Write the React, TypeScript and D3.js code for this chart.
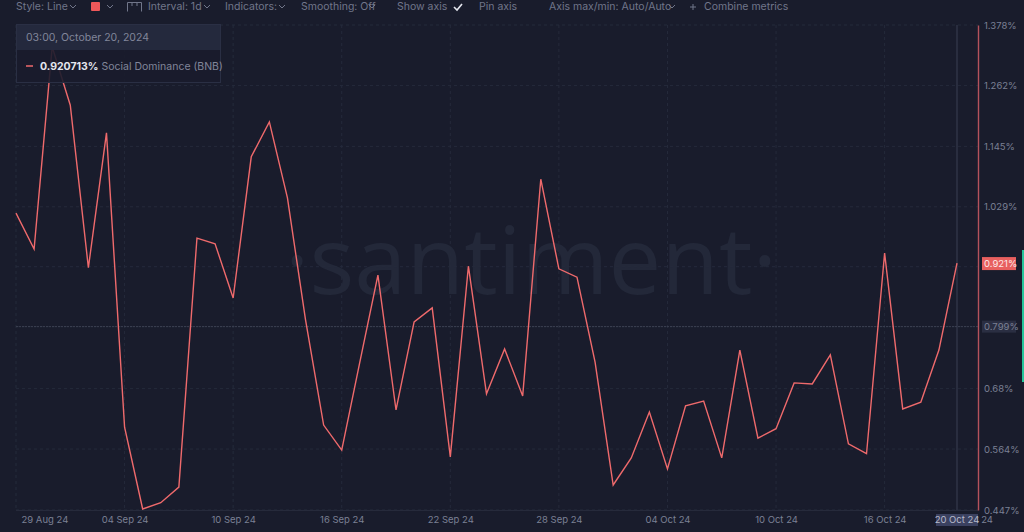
import React, { useRef, useEffect } from "react";
import * as d3 from "d3";

const startDay = "2024-08-29";
const dominance = [
  1.017, 0.948, 1.336, 1.224, 0.912, 1.171, 0.606, 0.449, 0.461, 0.491, 0.969,
  0.958, 0.854, 1.125, 1.192, 1.046, 0.812, 0.61, 0.562, 0.731, 0.898, 0.639,
  0.808, 0.835, 0.549, 0.915, 0.67, 0.756, 0.666, 1.082, 0.91, 0.894, 0.731,
  0.495, 0.547, 0.635, 0.526, 0.647, 0.656, 0.547, 0.754, 0.585, 0.603, 0.691,
  0.689, 0.745, 0.574, 0.555, 0.94, 0.641, 0.654, 0.754, 0.921,
];
const yTicks = [1.378, 1.262, 1.145, 1.029, 0.68, 0.564, 0.447];
const gridY = [1.378, 1.262, 1.145, 1.029, 0.914, 0.799, 0.68, 0.564, 0.447];
const xTicks = [
  "2024-08-29", "2024-09-04", "2024-09-10", "2024-09-16", "2024-09-22",
  "2024-09-28", "2024-10-04", "2024-10-10", "2024-10-16",
];
const toolbarItems = [
  ["Style: Line", 16], ["Interval: 1d", 148], ["Indicators:", 225],
  ["Smoothing: Off", 301], ["Show axis", 397], ["Pin axis", 479],
  ["Axis max/min: Auto/Auto", 549], ["Combine metrics", 704],
] as [string, number][];
const chevrons = [73, 110, 207, 282, 372, 672];

const FONT = "Inter, 'Noto Sans', sans-serif";
const BG = "#191c2c";
const RED = "#ef6a6c";
const MUTED = "#7b8094";

const parseDay = d3.utcParse("%Y-%m-%d");
const fmtDay = d3.utcFormat("%d %b %y");

const App: React.FC = () => {
  const svgRef = useRef<SVGSVGElement | null>(null);

  useEffect(() => {
    if (!svgRef.current) return;
    const svg = d3.select(svgRef.current);
    svg.selectAll("*").remove();

    const start = parseDay(startDay) as Date;
    const dates = dominance.map((_, i) => d3.utcDay.offset(start, i));

    const x = d3
      .scaleUtc()
      .domain([start, dates[dates.length - 1]])
      .range([16, 957]);
    const y = d3.scaleLinear().domain([0.447, 1.378]).range([510, 25]);

    svg.append("rect").attr("width", 1024).attr("height", 532).attr("fill", BG);

    // watermark
    svg
      .append("text")
      .attr("x", 531)
      .attr("y", 294)
      .attr("text-anchor", "middle")
      .attr("font-family", "'Open Sans', sans-serif")
      .attr("font-size", 94)
      .attr("fill", "#232839")
      .text("·santiment·");

    // gridlines
    svg
      .append("g")
      .selectAll("line")
      .data(gridY)
      .join("line")
      .attr("x1", 16)
      .attr("x2", 978)
      .attr("y1", (d) => y(d))
      .attr("y2", (d) => y(d))
      .attr("stroke", "#252a3b")
      .attr("stroke-dasharray", "3 3");
    svg
      .append("g")
      .selectAll("line")
      .data(xTicks.map((d) => parseDay(d) as Date))
      .join("line")
      .attr("x1", (d) => x(d))
      .attr("x2", (d) => x(d))
      .attr("y1", 25)
      .attr("y2", 510)
      .attr("stroke", "#252a3b")
      .attr("stroke-dasharray", "3 3");

    // crosshair
    svg
      .append("line")
      .attr("x1", 16)
      .attr("x2", 978)
      .attr("y1", y(0.799))
      .attr("y2", y(0.799))
      .attr("stroke", "#3c4052")
      .attr("stroke-dasharray", "2 1");
    svg
      .append("line")
      .attr("x1", x(dates[dates.length - 1]))
      .attr("x2", x(dates[dates.length - 1]))
      .attr("y1", 25)
      .attr("y2", 510)
      .attr("stroke", "#3a3f52");
    svg
      .append("line")
      .attr("x1", 16)
      .attr("x2", 978)
      .attr("y1", 510.5)
      .attr("y2", 510.5)
      .attr("stroke", "#262a3b");

    // series
    const line = d3
      .line<number>()
      .x((_, i) => x(dates[i]))
      .y((d) => y(d));
    svg
      .append("path")
      .attr("d", line(dominance))
      .attr("fill", "none")
      .attr("stroke", RED)
      .attr("stroke-width", 1.4)
      .attr("stroke-linejoin", "miter");

    // right axis
    const yAxis = svg
      .append("g")
      .attr("transform", "translate(978,0)")
      .call(
        d3
          .axisRight(y)
          .tickValues(yTicks)
          .tickSize(0)
          .tickPadding(6)
          .tickFormat((d) => `${d}%`)
      );
    yAxis.select(".domain").attr("stroke", "#b5525c").attr("stroke-width", 1.4);
    yAxis
      .selectAll("text")
      .attr("fill", MUTED)
      .attr("font-size", 9.5)
      .attr("font-family", FONT);

    // bottom axis
    const xAxis = svg
      .append("g")
      .attr("transform", "translate(0,510)")
      .call(
        d3
          .axisBottom(x)
          .tickValues(xTicks.map((d) => parseDay(d) as Date))
          .tickSize(0)
          .tickPadding(6)
          .tickFormat((d) => fmtDay(d as Date))
      );
    xAxis.select(".domain").remove();
    xAxis
      .selectAll<SVGTextElement, Date>("text")
      .attr("fill", MUTED)
      .attr("font-size", 9.5)
      .attr("font-family", FONT)
      .attr("text-anchor", (_, i) => (i === 0 ? "start" : "middle"))
      .attr("dx", (_, i) => (i === 0 ? 5 : 0));

    // clipped trailing label, sits behind the hover date
    svg
      .append("text")
      .attr("x", 993)
      .attr("y", 523)
      .attr("text-anchor", "end")
      .attr("font-size", 9.5)
      .attr("font-family", FONT)
      .attr("fill", MUTED)
      .text("22 Oct 24");
    svg
      .append("rect")
      .attr("x", 936)
      .attr("y", 514)
      .attr("width", 42)
      .attr("height", 12)
      .attr("fill", "#3b4160");
    svg
      .append("text")
      .attr("x", 957)
      .attr("y", 523)
      .attr("text-anchor", "middle")
      .attr("font-size", 9.5)
      .attr("font-family", FONT)
      .attr("fill", "#b6bacb")
      .text(fmtDay(dates[dates.length - 1]));

    // value tags on the axis
    svg
      .append("rect")
      .attr("x", 982)
      .attr("y", y(0.799) - 6)
      .attr("width", 34)
      .attr("height", 12)
      .attr("fill", "#2a2e42");
    svg
      .append("text")
      .attr("x", 984)
      .attr("y", y(0.799) + 3.5)
      .attr("font-size", 9.5)
      .attr("font-family", FONT)
      .attr("fill", MUTED)
      .text("0.799%");
    svg
      .append("rect")
      .attr("x", 982)
      .attr("y", y(0.921) - 6)
      .attr("width", 34)
      .attr("height", 13)
      .attr("fill", "#e8605f");
    svg
      .append("text")
      .attr("x", 984)
      .attr("y", y(0.921) + 4)
      .attr("font-size", 9.5)
      .attr("font-family", FONT)
      .attr("fill", "#fde8e8")
      .text("0.921%");

    // green edge marker
    svg
      .append("rect")
      .attr("x", 1022)
      .attr("y", 250)
      .attr("width", 2)
      .attr("height", 132)
      .attr("fill", "#26c69b");

    // tooltip
    const tip = svg.append("g");
    tip
      .append("rect")
      .attr("x", 16.5)
      .attr("y", 24.5)
      .attr("width", 204)
      .attr("height", 58)
      .attr("fill", BG)
      .attr("fill-opacity", 0.9)
      .attr("stroke", "#2a2f44");
    tip
      .append("rect")
      .attr("x", 17)
      .attr("y", 25)
      .attr("width", 203)
      .attr("height", 25)
      .attr("fill", "#252a3f")
      .attr("fill-opacity", 0.92);
    tip
      .append("text")
      .attr("x", 26)
      .attr("y", 41)
      .attr("font-size", 10.5)
      .attr("font-family", FONT)
      .attr("fill", "#81869a")
      .text("03:00, October 20, 2024");
    tip
      .append("line")
      .attr("x1", 26)
      .attr("x2", 33)
      .attr("y1", 66)
      .attr("y2", 66)
      .attr("stroke", RED)
      .attr("stroke-width", 1.5);
    const tipText = tip
      .append("text")
      .attr("x", 40)
      .attr("y", 70)
      .attr("font-size", 10.5)
      .attr("font-family", FONT)
      .attr("fill", "#81869a");
    tipText
      .append("tspan")
      .attr("font-weight", 700)
      .attr("fill", "#e4e6ee")
      .text(`${0.920713}%`);
    tipText.append("tspan").attr("dx", 3).text("Social Dominance (BNB)");

    // toolbar
    const bar = svg.append("g");
    bar
      .selectAll("text")
      .data(toolbarItems)
      .join("text")
      .attr("x", (d) => d[1])
      .attr("y", 10)
      .attr("font-size", 10.5)
      .attr("font-family", FONT)
      .attr("fill", "#71768a")
      .text((d) => d[0]);
    bar
      .selectAll("path.chev")
      .data(chevrons)
      .join("path")
      .attr("class", "chev")
      .attr("d", (d) => `M${d - 3} 5 L${d} 8 L${d + 3} 5`)
      .attr("fill", "none")
      .attr("stroke", "#71768a");
    bar
      .append("rect")
      .attr("x", 91)
      .attr("y", 2)
      .attr("width", 9)
      .attr("height", 9)
      .attr("rx", 1)
      .attr("fill", "#f0585a");
    bar
      .append("path")
      .attr("d", "M127.5 11.5 V2.5 H141.5 V11.5 M132 2.5 V6 M137 2.5 V6")
      .attr("fill", "none")
      .attr("stroke", "#71768a");
    bar
      .append("path")
      .attr("d", "M454 7 L457 10 L462 4")
      .attr("fill", "none")
      .attr("stroke", "#e4e6ee")
      .attr("stroke-width", 1.6);
    bar
      .append("path")
      .attr("d", "M690 7 H696 M693 4 V10")
      .attr("fill", "none")
      .attr("stroke", "#71768a");
  }, []);

  return (
    <svg
      ref={svgRef}
      width={1024}
      height={532}
      style={{ position: "absolute", left: 0, top: 0 }}
    ></svg>
  );
};

export default App;
